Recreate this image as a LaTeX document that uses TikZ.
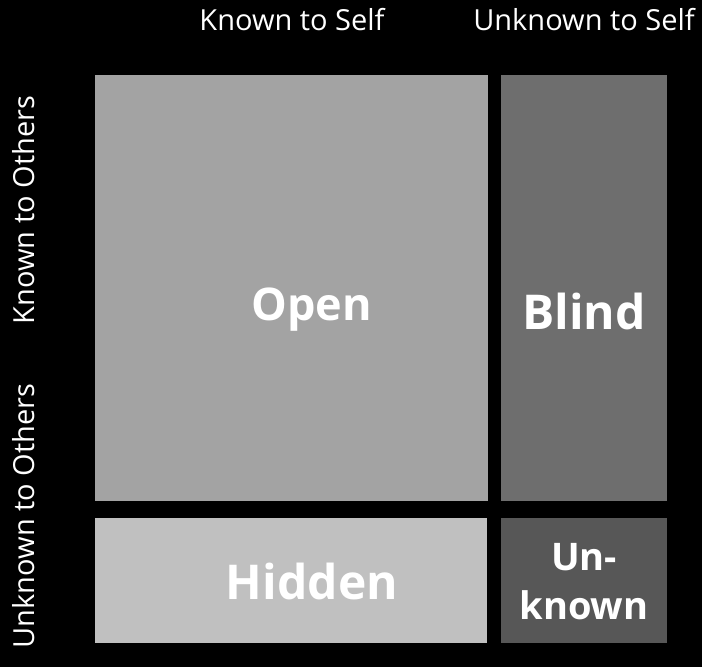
\documentclass[tikz,border=0pt]{standalone}
\usepackage{fontspec}
\setmainfont{Open Sans}
\usetikzlibrary{positioning}

\definecolor{openGray}{HTML}{A3A3A3}
\definecolor{blindGray}{HTML}{6E6E6E}
\definecolor{hiddenGray}{HTML}{C0C0C0}
\definecolor{unknownGray}{HTML}{575757}

\begin{document}
\begin{tikzpicture}[x=1pt,y=-1pt]
  \fill[black] (0,0) rectangle (702,667);
  \useasboundingbox (0,0) rectangle (702,667);
  \tikzstyle{Pane}=[draw=none,inner sep=0pt,outer sep=0pt]
  \tikzstyle{Head}=[white,inner sep=0pt,font=\fontsize{29}{30}\selectfont]
  \tikzstyle{Tag}=[white,inner sep=0pt,align=center,font=\bfseries\fontsize{48}{46}\selectfont]
  % the four panes
  \node[Pane,fill=openGray,minimum width=393,minimum height=426] (open) at (291.5,288) {};
  \node[Pane,fill=blindGray,minimum width=166,minimum height=426] (blind) at (584,288) {};
  \node[Pane,fill=hiddenGray,minimum width=392,minimum height=125] (hidden) at (291,580.5) {};
  \node[Pane,fill=unknownGray,minimum width=166,minimum height=125] (unknown) at (584,580.5) {};
  % pane names
  \node[Tag,font=\bfseries\fontsize{45}{46}\selectfont,xshift=20,yshift=-22] (openTag) at (open) {Open};
  \node[Tag,yshift=-23] (blindTag) at (blind) {Blind};
  \node[Tag,xshift=21,yshift=-1] (hiddenTag) at (hidden) {Hidden};
  \node[Tag,font=\bfseries\fontsize{38}{49}\selectfont,yshift=-1] (unknownTag) at (unknown) {Un-\\known};
  % axes
  \node[Head] (selfKnown) at (292,20) {Known to Self};
  \node[Head] (selfUnknown) at (584,20) {Unknown to Self};
  \node[Head,rotate=90] (othersKnown) at (24,210) {Known to Others};
  \node[Head,rotate=90] (othersUnknown) at (24,516) {Unknown to Others};
\end{tikzpicture}
\end{document}
